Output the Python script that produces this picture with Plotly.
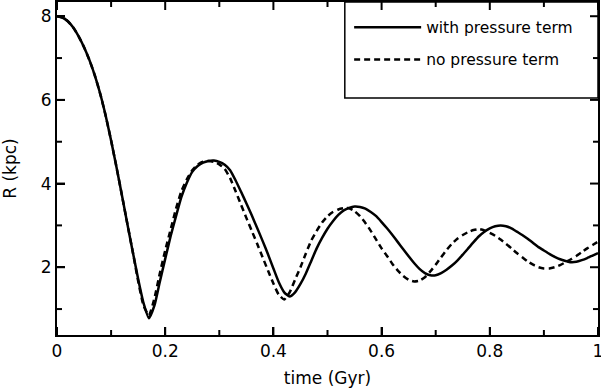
import plotly.graph_objects as go

t_gyr = [i / 100 for i in range(101)]

r_with_pressure = [
    8.00, 7.97, 7.88, 7.73, 7.52, 7.26, 6.95, 6.58, 6.14, 5.62,
    5.03, 4.39, 3.72, 3.04, 2.37, 1.72, 1.14, 0.78, 1.08, 1.65,
    2.20, 2.74, 3.22, 3.68, 4.02, 4.28, 4.42, 4.50, 4.54, 4.55,
    4.52, 4.45, 4.32, 4.08, 3.81, 3.53, 3.24, 2.94, 2.63, 2.31,
    1.97, 1.64, 1.40, 1.30, 1.40, 1.60, 1.85, 2.15, 2.45, 2.70,
    2.92, 3.10, 3.25, 3.36, 3.42, 3.45, 3.44, 3.40, 3.32, 3.22,
    3.08, 2.93, 2.77, 2.60, 2.43, 2.26, 2.10, 1.96, 1.86, 1.81,
    1.81, 1.86, 1.94, 2.04, 2.16, 2.30, 2.45, 2.60, 2.74, 2.85,
    2.93, 2.98, 3.00, 2.98, 2.93, 2.85, 2.77, 2.68, 2.58, 2.48,
    2.40, 2.32, 2.25, 2.19, 2.15, 2.12, 2.13, 2.17, 2.22, 2.28,
    2.34,
]

r_no_pressure = [
    8.00, 7.97, 7.88, 7.73, 7.52, 7.26, 6.95, 6.58, 6.14, 5.62,
    5.03, 4.39, 3.72, 3.04, 2.37, 1.67, 1.08, 0.85, 1.25, 1.85,
    2.40, 2.90, 3.40, 3.82, 4.10, 4.32, 4.45, 4.52, 4.54, 4.52,
    4.46, 4.35, 4.13, 3.82, 3.50, 3.18, 2.87, 2.56, 2.24, 1.92,
    1.61, 1.34, 1.23, 1.40, 1.70, 2.00, 2.33, 2.64, 2.87, 3.07,
    3.22, 3.32, 3.38, 3.41, 3.41, 3.34, 3.22, 3.06, 2.87, 2.66,
    2.45, 2.27, 2.08, 1.92, 1.79, 1.70, 1.66, 1.68, 1.76, 1.90,
    2.06, 2.24, 2.41, 2.56, 2.68, 2.77, 2.84, 2.89, 2.91, 2.88,
    2.82, 2.75, 2.66, 2.56, 2.45, 2.34, 2.24, 2.14, 2.06, 2.00,
    1.97, 1.97, 2.00, 2.05, 2.12, 2.19, 2.27, 2.36, 2.45, 2.53,
    2.61,
]

x_ticks = [0, 0.2, 0.4, 0.6, 0.8, 1]
x_tick_text = ['0', '0.2', '0.4', '0.6', '0.8', '1']
x_minor = [0.1, 0.3, 0.5, 0.7, 0.9]
y_ticks = [2, 4, 6, 8]
y_minor = [1, 3, 5, 7]

x_range = [0, 1]
y_range = [0.38, 8.34]
plot_w, plot_h = 541, 333

fig = go.Figure()

fig.add_trace(go.Scatter(
    x=t_gyr, y=r_with_pressure,
    mode='lines', name='with pressure term', legendgroup='a',
    line=dict(color='black', width=2.5, shape='spline', smoothing=0.5)
))

fig.add_trace(go.Scatter(
    x=t_gyr, y=r_no_pressure,
    mode='lines', name='no pressure term', legendgroup='b',
    line=dict(color='black', width=2.5, dash='6px,4px', shape='spline', smoothing=0.5)
))

# inside tick marks on all four sides (8px major, 5px minor), drawn as one line trace
px_x = (x_range[1] - x_range[0]) / plot_w
px_y = (y_range[1] - y_range[0]) / plot_h
tx, ty = [], []
for xv, ln in [(v, 8) for v in x_ticks] + [(v, 5) for v in x_minor]:
    tx += [xv, xv, None, xv, xv, None]
    ty += [y_range[0], y_range[0] + ln * px_y, None, y_range[1], y_range[1] - ln * px_y, None]
for yv, ln in [(v, 8) for v in y_ticks] + [(v, 5) for v in y_minor]:
    tx += [x_range[0], x_range[0] + ln * px_x, None, x_range[1], x_range[1] - ln * px_x, None]
    ty += [yv, yv, None, yv, yv, None]
fig.add_trace(go.Scatter(
    x=tx, y=ty, mode='lines', showlegend=False, hoverinfo='skip',
    line=dict(color='black', width=2), cliponaxis=False
))

fig.update_layout(
    template='none',
    width=601, height=388,
    margin=dict(l=57, r=3, t=2, b=53),
    plot_bgcolor='white', paper_bgcolor='white',
    font=dict(family='DejaVu Sans', color='black'),
    legend=dict(
        x=0.54, y=0.974, xanchor='left', yanchor='top',
        bgcolor='rgba(0,0,0,0)', font=dict(size=15.5),
        itemwidth=67, tracegroupgap=9
    ),
    shapes=[dict(
        type='rect', xref='paper', yref='paper',
        x0=0.532, x1=1, y0=0.712, y1=1,
        line=dict(color='black', width=1.5)
    )]
)

fig.update_xaxes(
    range=x_range, tickmode='array', tickvals=x_ticks, ticktext=x_tick_text,
    ticks='inside', ticklen=8, tickwidth=2, tickcolor='black',
    showline=True, linecolor='black', linewidth=2, mirror=True,
    showgrid=False, zeroline=False, automargin=False, ticklabeloverflow='allow',
    tickfont=dict(size=17, color='black'),
    title=dict(text='time (Gyr)', font=dict(size=17)),
)

fig.update_yaxes(
    range=y_range, tickmode='array', tickvals=y_ticks,
    ticks='inside', ticklen=8, tickwidth=2, tickcolor='black',
    showline=True, linecolor='black', linewidth=2, mirror=True,
    showgrid=False, zeroline=False, automargin=False,
    tickfont=dict(size=17, color='black'),
    title=dict(text='R (kpc)', font=dict(size=17)),
)

fig.write_html("out.html", config={'displayModeBar': False},
               post_script="document.body.style.margin='0';")
